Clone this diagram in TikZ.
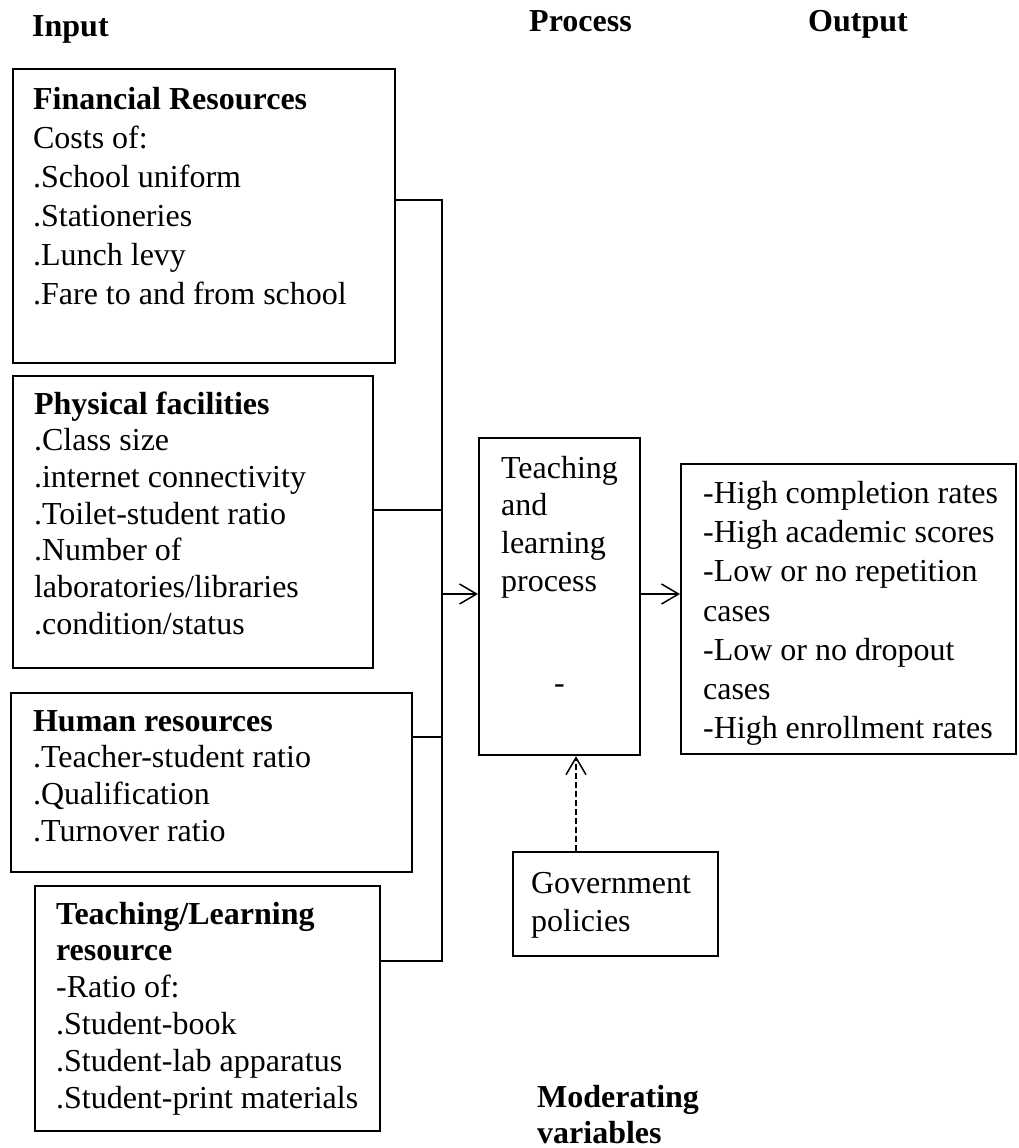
\documentclass[tikz,border=0pt]{standalone}
\usepackage{fontspec}
\setmainfont{Liberation Serif}
\usetikzlibrary{arrows.meta}

\begin{document}
\begin{tikzpicture}[x=1pt,y=-1pt,
  head/.style={anchor=base west,inner sep=0pt,align=flush left,font=\fontsize{32}{36}\selectfont\bfseries},
  box/.style={draw,line width=2.2pt,inner sep=0pt,anchor=north west,align=flush left},
  link/.style={line width=1.5pt},
  arr/.style={line width=1.5pt,-{Straight Barb[length=17pt,width=20pt]}}]

\useasboundingbox (0,0) rectangle (1018,1148);

\node[head] (input) at (32,37) {Input};
\node[head] (process) at (529,32) {Process};
\node[head] (output) at (808,32) {Output};
\node[head,text width=250pt] (moder) at (537,1107) {Moderating\\variables};

\node[box,text width=382pt,text height=40pt,text depth=254pt,font=\fontsize{32}{39}\selectfont,
  execute at begin node={\leftskip=20pt}] (fin) at (12,68)
  {\textbf{Financial Resources}\\Costs of:\\.School uniform\\.Stationeries\\.Lunch levy\\.Fare to and from school};

\node[box,text width=360pt,text height=38pt,text depth=254pt,font=\fontsize{32}{36.7}\selectfont,
  execute at begin node={\leftskip=21pt}] (phys) at (12,375)
  {\textbf{Physical facilities}\\.Class size\\.internet connectivity\\.Toilet-student ratio\\.Number of\\laboratories/libraries\\.condition/status};

\node[box,text width=401pt,text height=38pt,text depth=141pt,font=\fontsize{32}{36.7}\selectfont,
  execute at begin node={\leftskip=22pt}] (hum) at (10,692)
  {\textbf{Human resources}\\.Teacher-student ratio\\.Qualification\\.Turnover ratio};

\node[box,text width=345pt,text height=38pt,text depth=207pt,font=\fontsize{32}{36.8}\selectfont,
  execute at begin node={\leftskip=21pt}] (tl) at (34,885)
  {\textbf{Teaching/Learning}\\\textbf{resource}\\-Ratio of:\\.Student-book\\.Student-lab apparatus\\.Student-print materials};

\node[box,text width=161pt,text height=40pt,text depth=277pt,font=\fontsize{32}{37.7}\selectfont,
  execute at begin node={\leftskip=22pt}] (proc) at (478,437)
  {Teaching\\and\\learning\\process\\[65pt]\hspace*{53pt}-};

\node[box,text width=335pt,text height=39pt,text depth=251pt,font=\fontsize{32}{39.3}\selectfont,
  execute at begin node={\leftskip=22pt}] (out) at (680,463)
  {-High completion rates\\-High academic scores\\-Low or no repetition\\cases\\-Low or no dropout\\cases\\-High enrollment rates};

\node[box,text width=205pt,text height=41pt,text depth=63pt,font=\fontsize{32}{38}\selectfont,
  execute at begin node={\leftskip=18pt}] (gov) at (512,851)
  {Government\\policies};

\coordinate (j1) at (442,200);
\coordinate (j2) at (442,510);
\coordinate (j3) at (442,737);
\coordinate (j4) at (442,961);
\coordinate (ja) at (442,594);
\coordinate (jd) at (576,0);

\draw[link] (j1 -| fin.east) -- (j1) -- (j4) -- (j4 -| tl.east);
\draw[link] (j2 -| phys.east) -- (j2);
\draw[link] (j3 -| hum.east) -- (j3);
\draw[arr] (ja) -- (ja -| proc.west);
\draw[arr] (ja -| proc.east) -- (ja -| out.west);
\draw[arr,dash pattern=on 6pt off 3pt] (jd |- gov.north) -- (jd |- proc.south);
\end{tikzpicture}
\end{document}
